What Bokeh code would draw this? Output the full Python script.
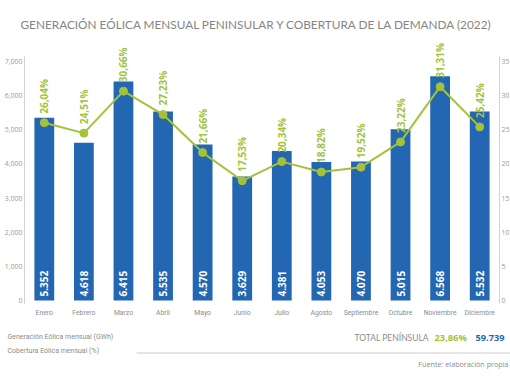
import math
from bokeh.plotting import figure
from bokeh.models import (ColumnDataSource, Range1d, LinearAxis, FixedTicker,
                          NumeralTickFormatter)
from bokeh.core.properties import value
from bokeh.embed import file_html
from bokeh.resources import INLINE

# ---------------- data ----------------
months = ["Enero", "Febrero", "Marzo", "Abril", "Mayo", "Junio", "Julio",
          "Agosto", "Septiembre", "Octubre", "Noviembre", "Diciembre"]
generation_gwh = [5352, 4618, 6415, 5535, 4570, 3629, 4381, 4053, 4070, 5015, 6568, 5532]
coverage_pct = [26.04, 24.51, 30.66, 27.23, 21.66, 17.53, 20.34, 18.82, 19.52, 23.22, 31.31, 25.42]
left_ticks = [0, 1000, 2000, 3000, 4000, 5000, 6000, 7000]
right_ticks = [0, 5, 10, 15, 20, 25, 30, 35]
total_coverage_pct = 23.86
total_generation_gwh = 59739
title_text = "GENERACIÓN EÓLICA MENSUAL PENINSULAR Y COBERTURA DE LA DEMANDA (2022)"
legend_items = ["Generación Eólica mensual (GWh)", "Cobertura Eólica mensual (%)"]
total_label = "TOTAL PENÍNSULA"
source_note = "Fuente: elaboración propia"

# ---------------- styles / page geometry ----------------
BLUE = "#2367b2"
GREEN = "#a3c23a"
GREY = "#8c8c8c"
AXIS_GREY = "#d2d2d2"
W, H = 510, 382
AX_L, AX_R = 24, 499       # page x of the two value axes
Y0_PAGE, YMAX_PAGE = 300, 61   # page y of 0 and of 7000 / 35 %


def es_thousands(v):
    return f"{v:,}".replace(",", ".")


def es_pct(v):
    return f"{v:.2f}%".replace(".", ",")


n = len(months)
xpos = [i + 0.5 for i in range(n)]
src = ColumnDataSource(dict(
    x=xpos,
    gen=generation_gwh,
    pct=coverage_pct,
    gen_label=[es_thousands(v) for v in generation_gwh],
    pct_label=[es_pct(v) for v in coverage_pct],
))

# ranges chosen so that the frame covers the whole canvas
ux = (AX_R - AX_L) / n
x_start, x_end = -AX_L / ux, n + (W - AX_R) / ux
uy = (Y0_PAGE - YMAX_PAGE) / 7000
y_start, y_end = -(H - Y0_PAGE) / uy, Y0_PAGE / uy
up = (Y0_PAGE - YMAX_PAGE) / 35
p_start, p_end = -(H - Y0_PAGE) / up, Y0_PAGE / up

p = figure(width=W, height=H, x_range=Range1d(x_start, x_end), y_range=Range1d(y_start, y_end),
           output_backend="svg", toolbar_location=None,
           min_border_left=0, min_border_right=0, min_border_top=0, min_border_bottom=0,
           outline_line_color=None, background_fill_color="white")
p.extra_y_ranges = {"pct": Range1d(p_start, p_end), "pgy": Range1d(H, 0)}
p.extra_x_ranges = {"pgx": Range1d(0, W)}
p.xgrid.grid_line_color = None
p.ygrid.grid_line_color = None


def no_ticks(ax):
    ax.major_tick_line_color = None
    ax.minor_tick_line_color = None
    ax.major_tick_out = 0
    ax.major_tick_in = 0
    ax.minor_tick_out = 0
    ax.minor_tick_in = 0


def style_y(ax):
    no_ticks(ax)
    ax.axis_line_color = AXIS_GREY
    ax.major_label_text_font_size = "7px"
    ax.major_label_text_color = "#9a9a9a"
    ax.major_label_text_font = "Open Sans"
    ax.major_label_standoff = 2


ya = p.yaxis[0]
ya.ticker = FixedTicker(ticks=left_ticks)
ya.formatter = NumeralTickFormatter(format="0,0")
ya.fixed_location = 0
ya.bounds = (-90, 7150)
style_y(ya)

ra = LinearAxis(y_range_name="pct", ticker=FixedTicker(ticks=right_ticks))
ra.fixed_location = n
ra.bounds = (-0.45, 35.7)
style_y(ra)
p.add_layout(ra, "right")

xa = p.xaxis[0]
xa.ticker = FixedTicker(ticks=xpos)
xa.major_label_overrides = {x: m for x, m in zip(xpos, months)}
xa.fixed_location = 0
xa.axis_line_color = None
no_ticks(xa)
xa.major_label_text_font_size = "6.8px"
xa.major_label_text_color = GREY
xa.major_label_text_font = "Roboto"
xa.major_label_standoff = 8

# bars
p.vbar(x="x", top="gen", width=0.5, source=src, fill_color=BLUE, line_color=None)
p.text(x="x", y=0, text="gen_label", source=src, angle=math.pi / 2,
       text_align="left", text_baseline="middle", y_offset=-4,
       text_color="white", text_font_style="bold", text_font_size="10px",
       text_font=value("Open Sans"))

# coverage line
p.line(x="x", y="pct", source=src, y_range_name="pct", line_color=GREEN, line_width=2)
p.scatter(x="x", y="pct", source=src, y_range_name="pct", size=8,
          fill_color=GREEN, line_color=GREEN)
p.text(x="x", y="pct", text="pct_label", source=src, y_range_name="pct",
       angle=math.pi / 2, text_align="left", text_baseline="middle", y_offset=-9,
       text_color=GREEN, text_font_style="bold", text_font_size="10px",
       text_font=value("Open Sans"))


def page_text(x, y, text, size, color, font, bold=False, align="left"):
    p.text(x=[x], y=[y], text=[text], x_range_name="pgx", y_range_name="pgy",
           text_align=align, text_baseline="middle", text_color=color,
           text_font_size=size, text_font=value(font),
           text_font_style="bold" if bold else "normal")


# title
page_text(20, 24, title_text, "11.8px", "#858585", "Lato")

# footer
page_text(7, 336, legend_items[0], "7px", GREY, "Roboto")
page_text(7, 350, legend_items[1], "7px", GREY, "Roboto")
page_text(354, 337, total_label, "8.5px", GREY, "Lato")
page_text(434, 337, es_pct(total_coverage_pct), "9.3px", GREEN, "Open Sans", bold=True)
page_text(475, 337, es_thousands(total_generation_gwh), "9.2px", BLUE, "Open Sans", bold=True)
page_text(508, 363, source_note, "7.2px", GREY, "Open Sans", align="right")
p.segment(x0=[136], y0=[352.5], x1=[W], y1=[352.5], x_range_name="pgx", y_range_name="pgy",
          line_color="#cccccc", line_width=1)

open("out.html", "w").write(file_html(p, INLINE))
